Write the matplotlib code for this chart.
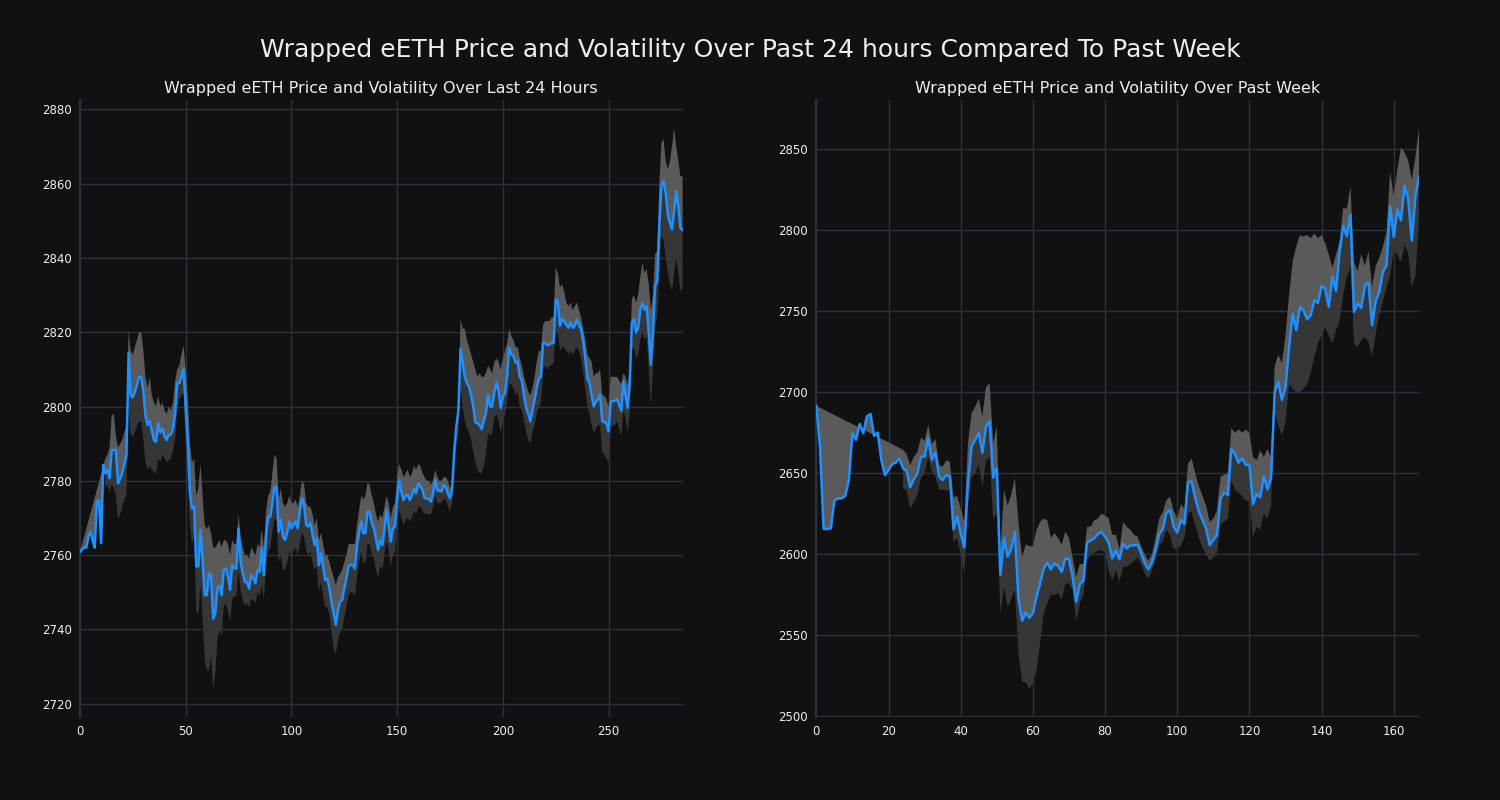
import matplotlib
matplotlib.use("Agg")
import matplotlib.pyplot as plt

# last 24 hours (5 minute steps)
day_price = [
    2760.8, 2761.5, 2762, 2762, 2765, 2766.3, 2764, 2762, 2774.4, 2774.8,
    2763.2, 2784.3, 2782, 2782.9, 2780.7, 2788.3, 2788.3, 2788.3, 2779.3, 2780.5,
    2782, 2784.5, 2787, 2814.5, 2803.1, 2802.5, 2804, 2806, 2808, 2808,
    2804, 2797.5, 2795, 2796, 2793.5, 2791, 2790.5, 2795.5, 2793, 2794,
    2792, 2791, 2792.4, 2792.4, 2794, 2798.2, 2806.3, 2806.3, 2808, 2810,
    2800, 2791, 2777, 2772.5, 2773, 2757, 2756.9, 2766.8, 2758.7, 2749.2,
    2749.2, 2755.1, 2754.6, 2742.9, 2744.3, 2751, 2751.7, 2749.2, 2756, 2756.4,
    2754.2, 2750.6, 2757.3, 2756.4, 2756.4, 2767.2, 2758.2, 2755.1, 2752.8, 2752.6,
    2751, 2754.6, 2753.8, 2752.4, 2756, 2755.5, 2761.8, 2754.6, 2765, 2770.3,
    2770.3, 2774, 2778.4, 2778.4, 2766.3, 2769.5, 2765, 2764.1, 2766, 2769,
    2767.2, 2768.1, 2769, 2767.2, 2772, 2775.3, 2773.5, 2768.1, 2767.7, 2768.6,
    2765.4, 2762.7, 2764.5, 2757.3, 2760.5, 2756.9, 2753.3, 2753.7, 2751, 2747,
    2744.3, 2741.2, 2745.2, 2747.4, 2747.9, 2751, 2753.7, 2756.9, 2757.3, 2757.3,
    2756.4, 2762.3, 2766, 2769, 2765.9, 2765.9, 2771.7, 2771.7, 2768.6, 2767.2,
    2764.5, 2761.4, 2764, 2762.7, 2767, 2772.1, 2768, 2763.6, 2767.2, 2767.7,
    2775, 2780.2, 2777, 2774.8, 2776, 2776.2, 2774.8, 2776, 2778, 2776.6,
    2779.3, 2778.5, 2777.5, 2775.3, 2775.3, 2775, 2774.4, 2776.6, 2780.2, 2777.5,
    2777.3, 2777.1, 2778.9, 2778.3, 2776.6, 2775.3, 2777.5, 2787.9, 2794.6, 2799.1,
    2815.5, 2812, 2808, 2806.3, 2805.4, 2803, 2800, 2795.7, 2795.5, 2795,
    2793.9, 2796, 2798.2, 2803.1, 2800, 2800, 2804, 2806.5, 2804, 2799.6,
    2802.5, 2803.6, 2808, 2815.8, 2814, 2813.6, 2811.8, 2812.2, 2808, 2807,
    2803, 2799.6, 2798, 2796, 2799, 2801.8, 2805, 2807.5, 2808, 2817,
    2817.2, 2816.5, 2816.7, 2817, 2817.2, 2828.8, 2828.4, 2821.7, 2823.5, 2823,
    2822.1, 2821.2, 2822.6, 2821.2, 2821.7, 2823.5, 2822, 2820.8, 2817.5, 2813,
    2807.5, 2806.3, 2803, 2800, 2801.3, 2802, 2803.1, 2796, 2795.8, 2795.5,
    2793.3, 2801.3, 2801.4, 2801.6, 2802, 2800.5, 2798.9, 2806.7, 2803, 2799.6,
    2806, 2822.6, 2823.5, 2820, 2821.2, 2826, 2827.9, 2826.1, 2827, 2819.9,
    2811.3, 2819.9, 2832.4, 2833.8, 2848.6, 2859.4, 2860.7, 2857.6, 2851.7, 2849.5,
    2847.7, 2852.6, 2858, 2853.9, 2848.1, 2847.5,
]

day_upper = [2760.8] + [None] * 11 + [
    2786, 2787, 2789, 2797.6, 2798, 2792, 2789, 2790,
    2791, 2793, 2795, 2820.5, 2815, 2814, 2816, 2818, 2820, 2820,
    2815, 2808, 2805, 2808, 2803, 2801, 2800, 2803, 2800, 2801,
    2799, 2798, 2800, 2799, 2801, 2807, 2810, 2811, 2814, 2816.5,
    2810, 2803, 2790, 2785, 2786, 2776, 2778, 2784.5, 2776, 2768,
    2767, 2768, 2766, 2762, 2762, 2763, 2764, 2762, 2764, 2764,
    2763, 2760, 2764, 2763, 2763, 2771, 2765, 2762, 2760, 2760,
    2759, 2762, 2761, 2760, 2763, 2762, 2767, 2762, 2772, 2776,
    2777, 2782, 2787, 2786, 2775, 2778, 2774, 2773, 2774, 2776,
    2774, 2774, 2775, 2773, 2776, 2780, 2779, 2774, 2773, 2773,
    2771, 2768, 2770, 2764, 2766, 2763, 2760, 2760, 2758, 2756,
    2754, 2752, 2754, 2755, 2756, 2758, 2760, 2763, 2763, 2763,
    2763, 2768, 2772, 2776, 2775, 2776, 2779.5, 2779, 2776, 2774,
    2771, 2769, 2771, 2770, 2773, 2776, 2774, 2770, 2773, 2774,
    2781, 2784.5, 2783, 2781, 2782, 2783, 2781, 2782, 2784, 2783,
    2784.5, 2784, 2782, 2781, 2780, 2780, 2779, 2780, 2783, 2781,
    2780, 2780, 2781, 2781, 2780, 2778, 2780, 2790, 2796, 2802,
    2823.6, 2821, 2821, 2818, 2816, 2814, 2812, 2810, 2808, 2809,
    2808, 2808, 2809, 2811, 2810, 2809, 2812, 2813, 2812, 2810,
    2813, 2815, 2817, 2821, 2819, 2818, 2816, 2816, 2813, 2811,
    2808, 2806, 2804, 2803, 2805, 2808, 2812, 2815, 2815, 2822,
    2823, 2823, 2823, 2824, 2824, 2837.5, 2836, 2832, 2833, 2831,
    2828, 2827, 2828, 2826, 2827, 2828, 2826, 2824, 2821, 2818,
    2814, 2813, 2812, 2808, 2809, 2809, 2810, 2803, 2803, 2802,
    2800, 2808, 2808, 2808, 2808, 2807, 2806, 2809, 2808, 2806,
    2810, 2829, 2830, 2828, 2830, 2835, 2838.7, 2836, 2837, 2833,
    2826, 2830, 2841, 2842, 2860, 2871, 2872, 2866, 2864, 2866,
    2870, 2875, 2870, 2866, 2862, 2862,
]

day_lower = [None] * 12 + [
    2778, 2779, 2777, 2779, 2778, 2776, 2769.5, 2771,
    2773, 2775, 2776, 2800, 2792.5, 2792, 2793, 2795, 2796, 2796,
    2791, 2785, 2783, 2784, 2783, 2782.5, 2782, 2786, 2785, 2787,
    2786, 2785, 2785.5, 2786, 2788, 2791, 2799, 2802, 2803, 2803.6,
    2790, 2780, 2768, 2763, 2765, 2745, 2744, 2752, 2743, 2732,
    2729, 2729, 2733, 2724, 2728, 2737, 2740, 2738, 2746, 2747,
    2745, 2742, 2748, 2749, 2749, 2756, 2750, 2748, 2746.5, 2747,
    2746, 2748, 2748, 2747, 2750, 2749, 2752, 2748, 2757, 2761,
    2762, 2766, 2770, 2769, 2758, 2760, 2756, 2756, 2758, 2761,
    2759, 2761, 2762, 2760, 2763, 2766, 2765, 2761, 2760, 2761,
    2758, 2756, 2757, 2750, 2753, 2749, 2746, 2746, 2744, 2739,
    2735, 2733, 2737, 2739, 2740, 2743, 2746, 2749, 2750, 2750,
    2749, 2754, 2758, 2761, 2758, 2758, 2763, 2763, 2760, 2759,
    2756, 2754, 2757, 2756, 2760, 2764, 2761, 2757, 2760, 2761,
    2768, 2772, 2770, 2768, 2769.5, 2770, 2769, 2770, 2772, 2771,
    2773, 2773, 2772, 2771, 2771, 2771, 2771, 2773, 2776, 2774,
    2774, 2774, 2775, 2775, 2773, 2772, 2774, 2784, 2789, 2793,
    2805, 2800, 2796, 2794, 2793, 2791, 2788, 2785, 2783, 2782,
    2782, 2784, 2787, 2793, 2792, 2793, 2797, 2798, 2796, 2793,
    2796, 2798, 2801, 2806, 2806, 2805, 2803, 2804, 2800, 2799,
    2796, 2793, 2791, 2790, 2793, 2795, 2798, 2800, 2801, 2810,
    2811, 2810, 2811, 2811, 2812, 2820, 2820, 2815, 2816, 2816,
    2815, 2814, 2815, 2814, 2815, 2816, 2815, 2813, 2809, 2805,
    2800, 2798, 2795, 2793, 2794, 2795, 2795, 2788, 2787, 2786,
    2785, 2794, 2795, 2795, 2796, 2794, 2792, 2799, 2797, 2793,
    2798, 2815, 2816, 2813, 2814, 2818, 2820, 2818, 2819, 2810,
    2800, 2810, 2822, 2824, 2836, 2846, 2845, 2840, 2836, 2833,
    2831, 2836, 2840, 2836, 2831, 2832,
]

# past week (hourly)
week_price = [
    2691.6, 2666.4, 2615.6, 2615.6, 2616, 2633.1, 2634.3, 2634.5, 2636, 2645.8,
    2674.7, 2670.6, 2680.4, 2674.7, 2685, 2686.6, 2673, 2675.1, 2658.2, 2648.9,
    2652, 2655.7, 2656.5, 2659.2, 2653, 2651.6, 2641.3, 2646.3, 2650, 2660.3,
    2660.3, 2671.6, 2658.2, 2662.7, 2647.9, 2645.8, 2648.9, 2647.9, 2615.4, 2623.2,
    2612.9, 2604.2, 2643.8, 2666.4, 2670.6, 2674.7, 2662.7, 2678.8, 2681.9, 2647.3,
    2653, 2587.2, 2609.8, 2598.5, 2603.6, 2613.9, 2572.7, 2558.9, 2563.9, 2560.8,
    2563.5, 2573.8, 2582, 2591.3, 2594.8, 2590.7, 2594.4, 2592.7, 2589.2, 2597.4,
    2597, 2586.1, 2570.7, 2581.6, 2583.6, 2607.3, 2608.4, 2609.8, 2612.5, 2613.9,
    2610.8, 2607.1, 2597.4, 2602.2, 2596.8, 2606.7, 2603.6, 2605.5, 2605.5, 2605.9,
    2600.5, 2594.4, 2590.7, 2594.8, 2602.6, 2612.5, 2615.4, 2625.7, 2627.3, 2617,
    2613.3, 2621.1, 2618.7, 2644.4, 2644.8, 2634.5, 2626.3, 2621.1, 2616, 2605.7,
    2608.8, 2611.7, 2634.5, 2638, 2636.6, 2664.8, 2661.9, 2656.5, 2659.2, 2655.1,
    2655.1, 2631, 2637.2, 2635.1, 2648.3, 2640.1, 2646.9, 2699.8, 2706.6, 2695.3,
    2702.5, 2727.9, 2748.5, 2738.2, 2752.6, 2750.5, 2745, 2747.4, 2756.7, 2755.1,
    2765.6, 2763.9, 2752.6, 2771.5, 2762.5, 2786.6, 2802.6, 2796.3, 2809.6, 2749.5,
    2754.7, 2752, 2766, 2767.6, 2741.3, 2756.3, 2761.9, 2774.2, 2778.3, 2814.8,
    2795.8, 2812.7, 2806.1, 2827.3, 2819.5, 2793.4, 2820.6, 2833.3,
]

week_upper = [2691.6] + [None] * 23 + [
    2664.5, 2662, 2655, 2660, 2663, 2672,
    2670, 2680, 2668, 2671, 2655, 2654, 2658, 2657, 2635, 2636,
    2628, 2620, 2668, 2687, 2691, 2696, 2685, 2703, 2705.6, 2668.5,
    2679, 2601, 2640, 2630, 2637, 2647, 2620, 2598, 2606, 2605,
    2605, 2615, 2620, 2622, 2621, 2610, 2613, 2610, 2606, 2614,
    2610, 2598, 2586, 2594, 2594, 2617, 2617, 2621, 2622, 2625,
    2624, 2622, 2612, 2612, 2603, 2620, 2617, 2615, 2612, 2611,
    2605, 2600, 2596, 2600, 2610, 2622, 2626, 2633.5, 2635.5, 2627,
    2622, 2631, 2628, 2656, 2659, 2650, 2642, 2636, 2630, 2620,
    2622, 2627, 2648, 2649, 2650, 2677.8, 2675, 2677, 2675, 2677,
    2675, 2660, 2658, 2664, 2660, 2665, 2660, 2716, 2723, 2718,
    2735, 2760, 2781, 2790, 2797, 2796, 2797, 2795, 2798, 2795,
    2797, 2792, 2785, 2777, 2785, 2793, 2814, 2813, 2827, 2780,
    2775, 2785, 2778, 2787, 2765, 2778, 2783, 2790, 2799, 2836,
    2821, 2837, 2851, 2848, 2843, 2831, 2845, 2863,
]

week_lower = [None] * 24 + [
    2640.5, 2639.7, 2628.3, 2632, 2636.6, 2647,
    2650, 2660, 2651, 2648, 2639.7, 2640, 2639, 2640, 2608, 2610,
    2600, 2588, 2630, 2647, 2650, 2655, 2641.7, 2657, 2660, 2622,
    2625, 2563.5, 2580, 2567.6, 2572, 2578, 2539, 2521.3, 2521, 2517,
    2520, 2528.5, 2545, 2563.5, 2570, 2575, 2575, 2576, 2572, 2582,
    2582, 2578, 2558.3, 2570, 2575, 2597, 2599, 2601, 2602, 2602.6,
    2601, 2590, 2584, 2590, 2583, 2592.3, 2592, 2594, 2596, 2598,
    2594, 2588, 2585, 2590, 2597, 2605, 2608, 2615, 2612, 2603,
    2604, 2605, 2610, 2625, 2626.3, 2618, 2610, 2604, 2600, 2596,
    2598, 2600, 2618, 2620, 2622, 2645, 2640, 2638, 2636, 2633,
    2633, 2610.8, 2617, 2615, 2625, 2622, 2630, 2688, 2680, 2673,
    2682, 2705, 2702, 2700, 2700, 2702, 2705, 2712, 2722, 2730,
    2735, 2740, 2735, 2730, 2738, 2744, 2760, 2771, 2777, 2730,
    2728, 2732, 2734, 2731, 2722, 2736, 2748, 2756, 2765, 2772,
    2787, 2785, 2780, 2791, 2786, 2765, 2772, 2806,
]

bg = '#111111'
grid_col = '#283442'
text_col = '#eeeeee'


def draw_band(ax, price, edge, color):
    # polygon from the band edge to the price line
    pts = [(i, v) for i, v in enumerate(edge) if v is not None]
    first = pts[0][0]
    xs = [p[0] for p in pts] + list(range(len(price) - 1, first - 1, -1))
    ys = [p[1] for p in pts] + price[first:][::-1]
    ax.fill(xs, ys, color=color, lw=0, zorder=1)


fig, axes = plt.subplots(1, 2, figsize=(15, 8), dpi=100)
fig.patch.set_facecolor(bg)
fig.subplots_adjust(left=0.0533, right=0.946, bottom=0.104, top=0.875, wspace=0.222)

panels = [
    (axes[0], day_price, day_upper, day_lower, 'Wrapped eETH Price and Volatility Over Last 24 Hours'),
    (axes[1], week_price, week_upper, week_lower, 'Wrapped eETH Price and Volatility Over Past Week'),
]

for ax, price, upper, lower, title in panels:
    ax.set_facecolor(bg)
    draw_band(ax, price, upper, '#5a5a5a')
    draw_band(ax, price, lower, '#363636')
    ax.plot(range(len(price)), price, color='#1e90ff', lw=1.8, zorder=3)
    ax.margins(x=0)
    ax.grid(True, color=grid_col, lw=1)
    ax.set_axisbelow(True)
    for side in ['top', 'right', 'bottom']:
        ax.spines[side].set_visible(False)
    ax.spines['left'].set_color(grid_col)
    ax.spines['left'].set_linewidth(1.5)
    ax.tick_params(colors=text_col, labelsize=8.5, length=0, pad=6)
    ax.set_title(title, color=text_col, fontsize=11.5, pad=5)

fig.suptitle('Wrapped eETH Price and Volatility Over Past 24 hours Compared To Past Week',
             color=text_col, fontsize=18, y=0.9375, va='center')

plt.savefig('out.png', facecolor=bg)
